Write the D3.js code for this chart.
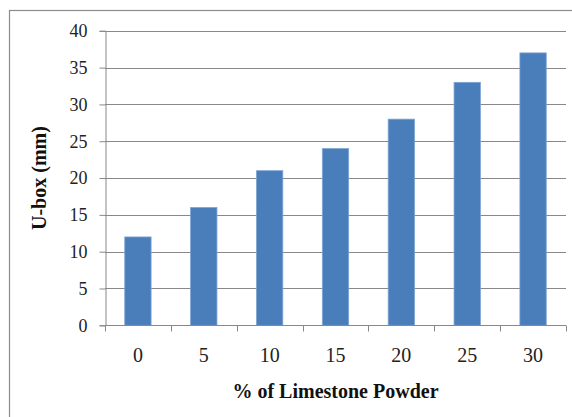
<!DOCTYPE html>
<html>
<head>
<meta charset="utf-8">
<script src="https://cdn.jsdelivr.net/npm/d3@7"></script>
<style>
  html, body { margin: 0; padding: 0; background: #fff; }
  svg { display: block; }
</style>
</head>
<body>
<svg id="chart" width="572" height="417"></svg>
<script>
// Limestone powder content (%) and U-box height difference (mm)
const categories = ["0", "5", "10", "15", "20", "25", "30"];
const uboxValues = [12, 16, 21, 24, 28, 33, 37];
const yTicks = [0, 5, 10, 15, 20, 25, 30, 35, 40];

const svg = d3.select("#chart");
const plot = { left: 105, right: 566, top: 30.8, bottom: 325.3 };
const gridColor = "#888888";

// chart frame (runs past the right and bottom edges of the page)
svg.append("rect")
  .attr("x", 9.5).attr("y", 10.5)
  .attr("width", 600).attr("height", 450)
  .attr("fill", "none")
  .attr("stroke", "#8c8c8c")
  .attr("stroke-width", 1.2);

const x = d3.scaleBand()
  .domain(categories)
  .range([plot.left, plot.right])
  .paddingInner(0.6)
  .paddingOuter(0.3);

const xEdges = d3.scaleLinear()
  .domain([0, categories.length])
  .range([plot.left, plot.right]);

const y = d3.scaleLinear()
  .domain([0, 40])
  .range([plot.bottom, plot.top]);

// horizontal gridlines
svg.append("g")
  .selectAll("line")
  .data(yTicks.filter(d => d > 0))
  .join("line")
  .attr("x1", plot.left).attr("x2", plot.right)
  .attr("y1", d => Math.round(y(d)) + 0.5)
  .attr("y2", d => Math.round(y(d)) + 0.5)
  .attr("stroke", gridColor)
  .attr("stroke-width", 1);

// bars
svg.append("g")
  .selectAll("rect")
  .data(uboxValues)
  .join("rect")
  .attr("x", (d, i) => x(categories[i]))
  .attr("width", x.bandwidth())
  .attr("y", d => y(d))
  .attr("height", d => y(0) - y(d))
  .attr("fill", "#4a7ebb")
  .attr("stroke", "#7ea3d3")
  .attr("stroke-width", 0.8);

// y axis
const yAxis = svg.append("g")
  .attr("transform", `translate(${plot.left + 0.5},0)`)
  .call(d3.axisLeft(y).tickValues(yTicks).tickSize(6).tickPadding(12).tickFormat(d3.format("d")));
yAxis.select(".domain").attr("stroke", gridColor);
yAxis.selectAll(".tick line").attr("stroke", gridColor);
yAxis.selectAll(".tick text")
  .attr("font-family", "'Liberation Serif', 'Times New Roman', serif")
  .attr("font-size", 18)
  .attr("fill", "#222");

// x axis: line with tick marks at category boundaries
const xAxisG = svg.append("g").attr("transform", `translate(0,${Math.round(plot.bottom) + 0.5})`);
xAxisG.append("line")
  .attr("x1", plot.left).attr("x2", plot.right)
  .attr("stroke", gridColor);
xAxisG.selectAll("line.edge")
  .data(d3.range(categories.length + 1))
  .join("line")
  .attr("class", "edge")
  .attr("x1", d => Math.round(xEdges(d)) + 0.5)
  .attr("x2", d => Math.round(xEdges(d)) + 0.5)
  .attr("y1", 0).attr("y2", 6)
  .attr("stroke", gridColor);
xAxisG.selectAll("text")
  .data(categories)
  .join("text")
  .attr("x", d => x(d) + x.bandwidth() / 2)
  .attr("y", 36)
  .attr("text-anchor", "middle")
  .attr("font-family", "'Liberation Serif', 'Times New Roman', serif")
  .attr("font-size", 20)
  .attr("fill", "#222")
  .text(d => d);

// axis titles
svg.append("text")
  .attr("x", (plot.left + plot.right) / 2)
  .attr("y", 398)
  .attr("text-anchor", "middle")
  .attr("font-family", "'Liberation Serif', 'Times New Roman', serif")
  .attr("font-weight", "bold")
  .attr("font-size", 20)
  .attr("fill", "#111")
  .text("% of Limestone Powder");

svg.append("text")
  .attr("transform", `translate(46,${(plot.top + plot.bottom) / 2}) rotate(-90)`)
  .attr("text-anchor", "middle")
  .attr("font-family", "'Liberation Serif', 'Times New Roman', serif")
  .attr("font-weight", "bold")
  .attr("font-size", 20)
  .attr("fill", "#111")
  .text("U-box (mm)");
</script>
</body>
</html>
